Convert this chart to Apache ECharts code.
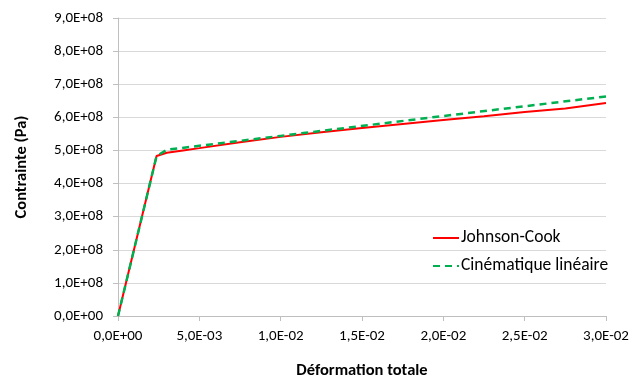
<!DOCTYPE html>
<html>
<head>
<meta charset="utf-8">
<script src="https://cdn.jsdelivr.net/npm/echarts@6/dist/echarts.min.js"></script>
<style>html,body{margin:0;padding:0;background:#fff}#c{width:629px;height:376px}</style>
</head>
<body>
<div id="c"></div>
<script>
var strainJC = [0, 0.00237, 0.003, 0.004, 0.005, 0.0075, 0.01, 0.0125, 0.015, 0.0175, 0.02, 0.0225, 0.025, 0.0275, 0.03];
var stressJC = [0, 4.83e8, 4.93e8, 5.0e8, 5.07e8, 5.25e8, 5.41e8, 5.55e8, 5.68e8, 5.80e8, 5.92e8, 6.03e8, 6.16e8, 6.27e8, 6.43e8];
var strainCL = [0, 0.00237, 0.003, 0.01, 0.02, 0.03];
var stressCL = [0, 4.83e8, 5.02e8, 5.44e8, 6.04e8, 6.63e8];
var seriesNames = ['Johnson-Cook', 'Cinématique linéaire'];
var xTitle = 'Déformation totale';
var yTitle = 'Contrainte (Pa)';

function sci(v) {
  if (Math.abs(v) < 1e-15) return '0,0E+00';
  var s = v.toExponential(1);
  var parts = s.split('e');
  var m = parts[0].replace('.', ',');
  var e = parseInt(parts[1], 10);
  var es = (e < 0 ? '-' : '+') + (Math.abs(e) < 10 ? '0' : '') + Math.abs(e);
  return m + 'E' + es;
}
function pairs(xs, ys) { return xs.map(function (x, i) { return [x, ys[i]]; }); }

var chart = echarts.init(document.getElementById('c'));
var font = 'Carlito, Liberation Sans';
chart.setOption({
  animation: false,
  grid: { left: 118, right: 23, top: 18, bottom: 60, containLabel: false, outerBoundsMode: 'none' },
  legend: {
    orient: 'vertical', left: 427, top: 224, itemWidth: 26, itemHeight: 10, itemGap: 10,
    textStyle: { fontFamily: font, fontSize: 17.5, lineHeight: 14, color: '#000', padding: [0, 0, 0, -3] },
    itemStyle: { opacity: 0 },
    data: seriesNames
  },
  xAxis: {
    type: 'value', min: 0, max: 0.03, interval: 0.005,
    name: xTitle, nameLocation: 'middle', nameGap: 46,
    nameTextStyle: { fontFamily: font, fontSize: 16.5, fontWeight: 'bold', color: '#000' },
    axisLine: { show: true, lineStyle: { color: '#bfbfbf' } },
    axisTick: { show: true, length: 5, lineStyle: { color: '#bfbfbf' } },
    axisLabel: { formatter: sci, fontFamily: font, fontSize: 15, color: '#000', margin: 13 },
    splitLine: { show: false }
  },
  yAxis: {
    type: 'value', min: 0, max: 9e8, interval: 1e8,
    name: yTitle, nameLocation: 'middle', nameGap: 88, nameRotate: 90,
    nameTextStyle: { fontFamily: font, fontSize: 16.5, fontWeight: 'bold', color: '#000' },
    axisLine: { show: true, lineStyle: { color: '#bfbfbf' } },
    axisTick: { show: true, length: 5, lineStyle: { color: '#bfbfbf' } },
    axisLabel: { formatter: sci, fontFamily: font, fontSize: 15, color: '#000', margin: 15 },
    splitLine: { show: true, lineStyle: { color: '#d9d9d9', width: 1 } }
  },
  series: [
    { name: seriesNames[0], type: 'line', symbol: 'none', data: pairs(strainJC, stressJC),
      lineStyle: { color: '#ff0000', width: 2 }, itemStyle: { color: '#ff0000' }, z: 2 },
    { name: seriesNames[1], type: 'line', symbol: 'none', data: pairs(strainCL, stressCL),
      lineStyle: { color: '#00b050', width: 2.5, type: [7, 5] }, itemStyle: { color: '#00b050' }, z: 3 }
  ]
});
</script>
</body>
</html>
